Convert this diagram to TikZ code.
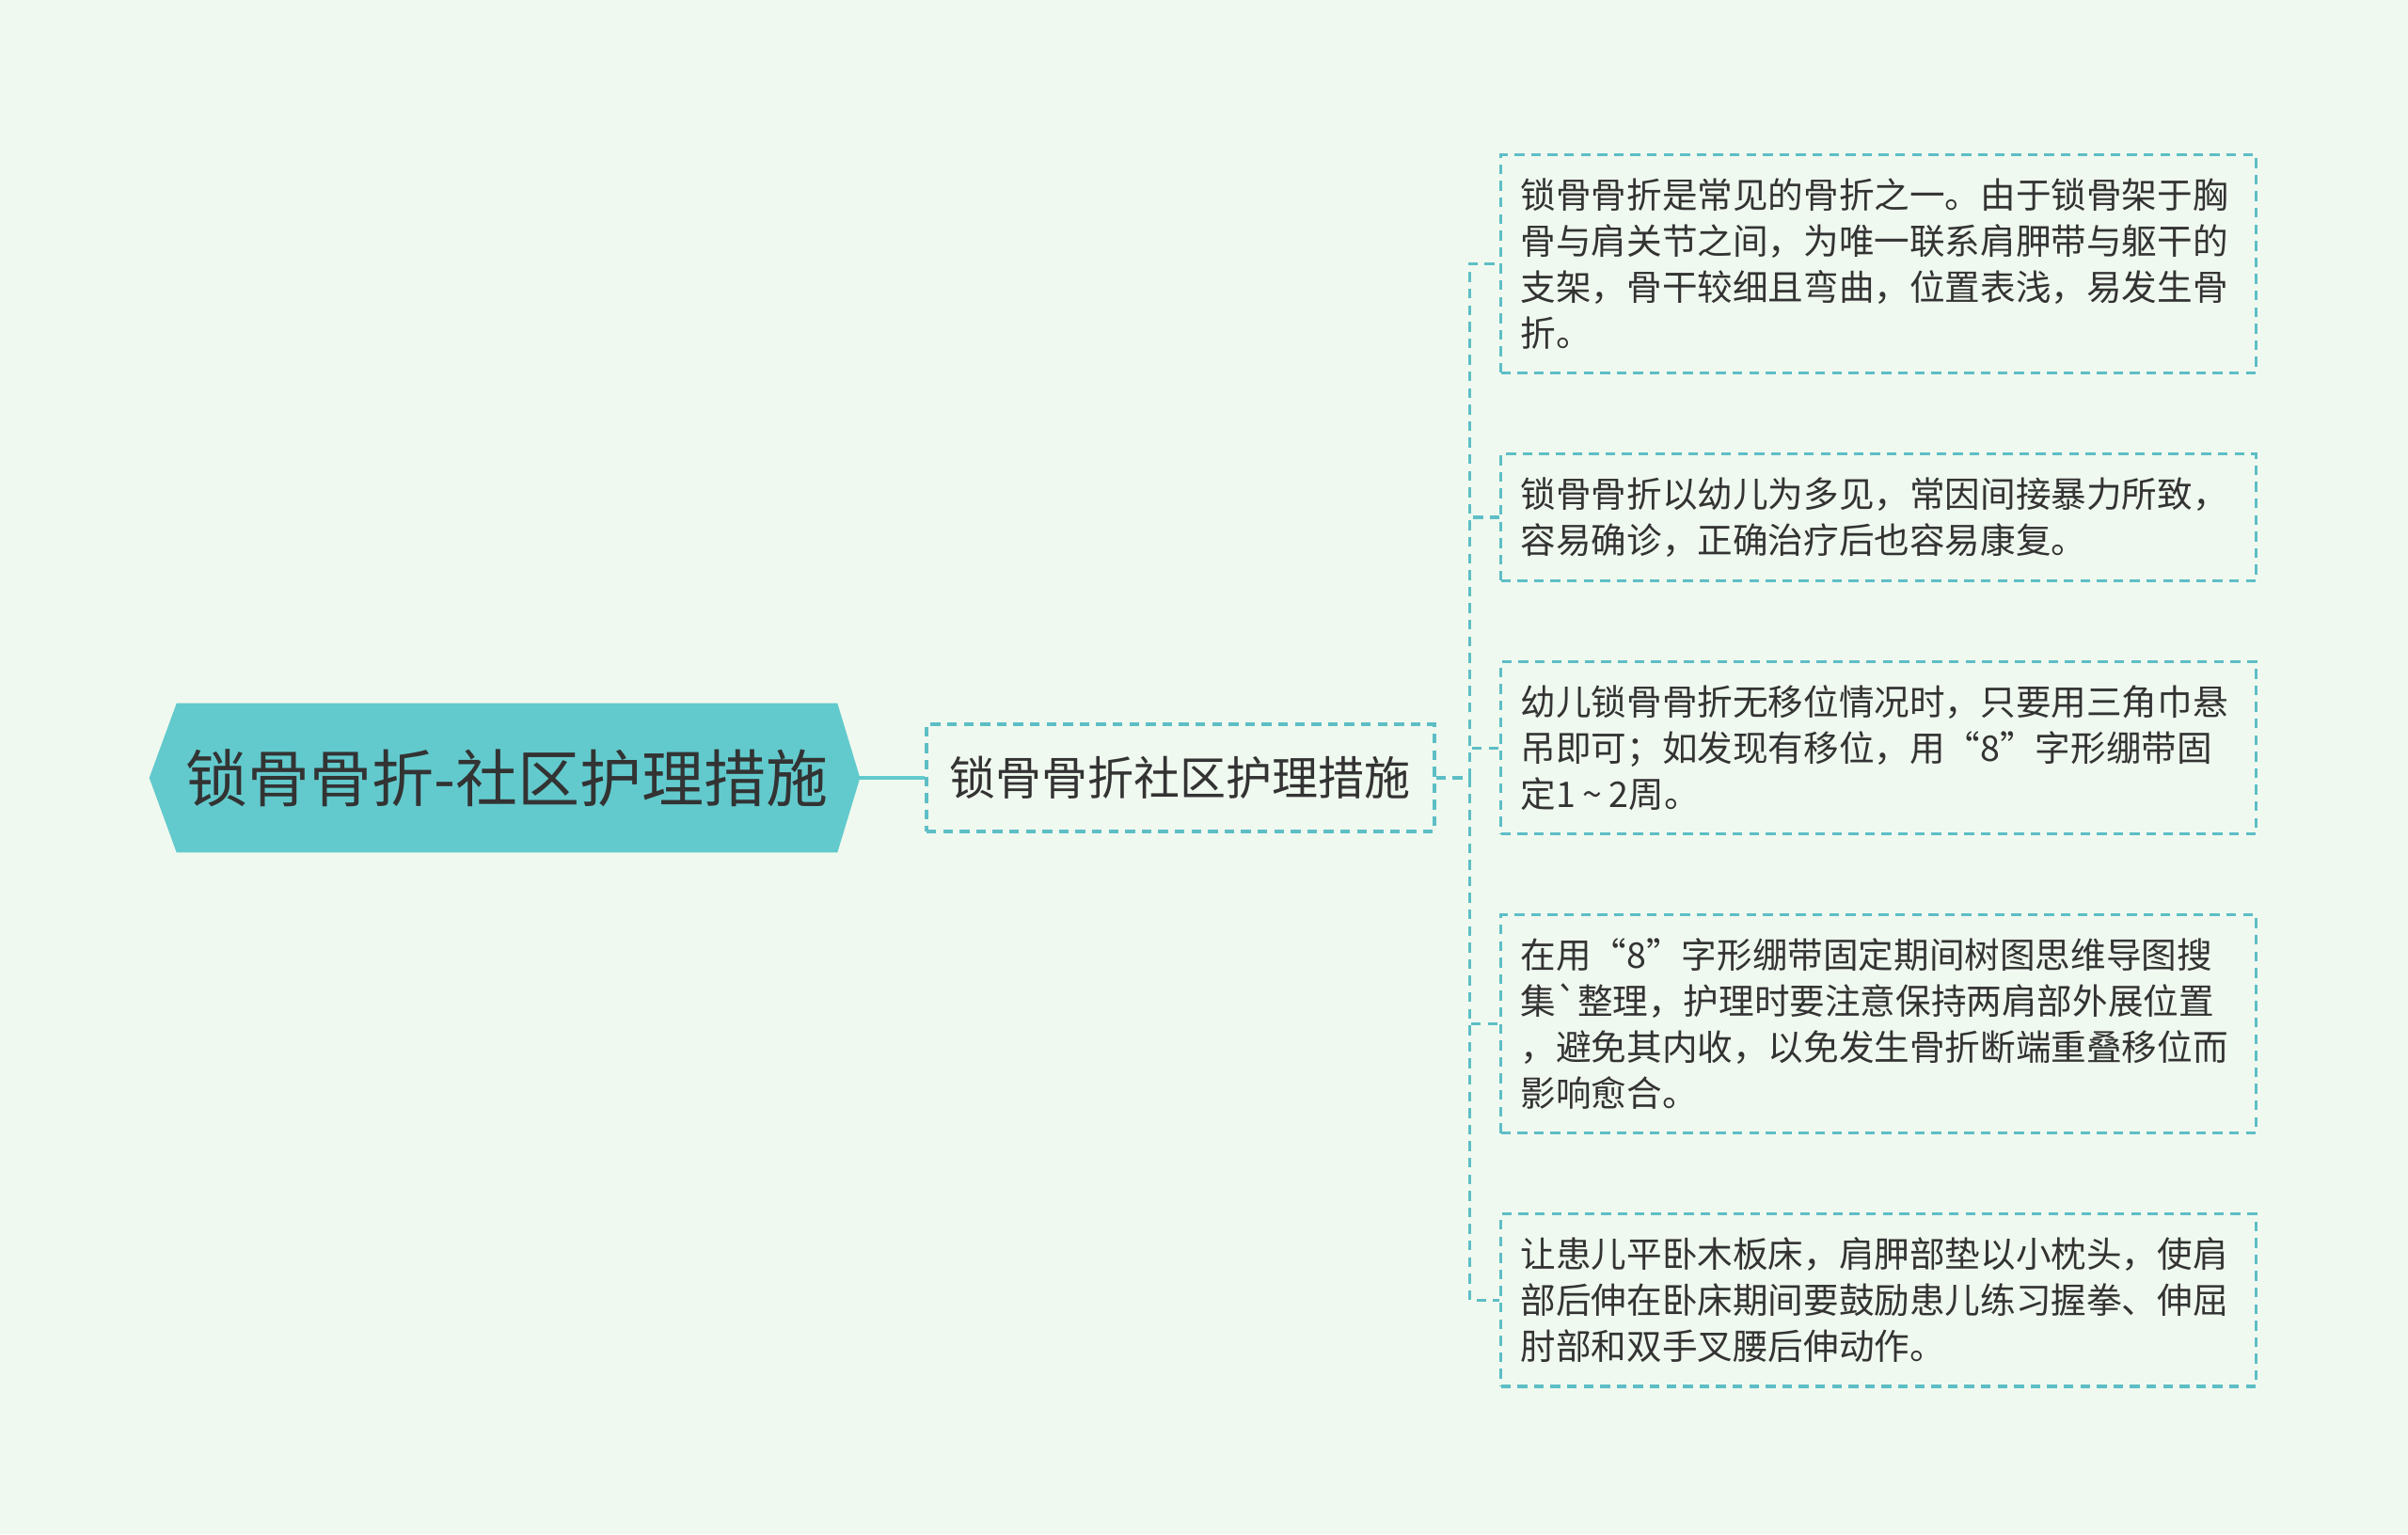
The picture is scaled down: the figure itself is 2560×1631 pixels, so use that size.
\documentclass[tikz,border=0pt]{standalone}
\usepackage{fontspec}
\newfontfamily\cjk{Noto Sans CJK SC}
\usepackage{tikz}
\usetikzlibrary{
  	positioning,
  	calc,
  	backgrounds
  }
\definecolor{bg}{HTML}{F0F9EF}
\definecolor{rootfill}{HTML}{62CACD}
\definecolor{linecol}{HTML}{5DBEC6}
\definecolor{ink}{HTML}{333333}
\tikzstyle{rootbox}=[text=ink, font=\cjk\fontsize{16.5}{20}\selectfont, minimum width=175.25pt, minimum height=39.25pt, inner sep=0pt]
\tikzstyle{midbox}=[draw=linecol, line width=0.8pt, dash pattern=on 2.6pt off 1.8pt, text=ink, font=\cjk\fontsize{12.25}{15}\selectfont, minimum height=28.5pt, inner xsep=6.25pt]
\tikzstyle{leaf}=[draw=linecol, line width=0.8pt, dash pattern=on 2.6pt off 1.8pt, text=ink, font=\cjk\fontsize{9.4}{12.25}\selectfont, text width=190.25pt, align=left, inner xsep=5.25pt, inner ysep=6.25pt]
\tikzstyle{branch}=[draw=linecol, line width=0.8pt, dash pattern=on 2.6pt off 1.8pt]

\begin{document}
\begin{tikzpicture}[x=0.25pt, y=-0.25pt]
  	\useasboundingbox (0,0) rectangle (2560,1631);
  	\node[rootbox] (root) at (539,827) {锁骨骨折-社区护理措施};
  	\begin{scope}[on background layer]
  	  \fill[bg] (0,0) rectangle (2560,1631);
  	  \fill[rootfill] (root.north west) -- ([xshift=-7.25pt]root.west) -- (root.south west)
  	    -- (root.south east) -- ([xshift=6pt]root.east) -- (root.north east) -- cycle;
  	\end{scope}
  	\node[midbox, right=23.25pt of root] (mid) {锁骨骨折社区护理措施};
  	\node[leaf, anchor=north west] (l1) at (1594,163) {锁骨骨折是常见的骨折之一。由于锁骨架于胸\\骨与肩关节之间，为唯一联系肩胛带与躯干的\\支架，骨干较细且弯曲，位置表浅，易发生骨\\折。};
  	\node[leaf, below=20.75pt of l1] (l2) {锁骨骨折以幼儿为多见，常因间接暴力所致，\\容易确诊，正确治疗后也容易康复。};
  	\node[leaf, below=20.75pt of l2] (l3) {幼儿锁骨骨折无移位情况时，只要用三角巾悬\\吊即可；如发现有移位，用“8”字形绷带固\\定1\hspace{0.2em}\textasciitilde\hspace{0.2em}2周。};
  	\node[leaf, below=20.75pt of l3] (l4) {在用“8”字形绷带固定期间树图思维导图搜\\集`整理，护理时要注意保持两肩部外展位置\\，避免其内收，以免发生骨折断端重叠移位而\\影响愈合。};
  	\node[leaf, below=20.75pt of l4] (l5) {让患儿平卧木板床，肩胛部垫以小枕头，使肩\\部后伸在卧床期间要鼓励患儿练习握拳、伸屈\\肘部和双手叉腰后伸动作。};
  	\draw[rootfill, line width=1.2pt] (root.east) -- (mid.west);
  	\foreach \i in {1,...,5}
  	  \draw[branch] (mid.east) -- ++(9pt,0) |- (l\i.west);
\end{tikzpicture}
\end{document}
